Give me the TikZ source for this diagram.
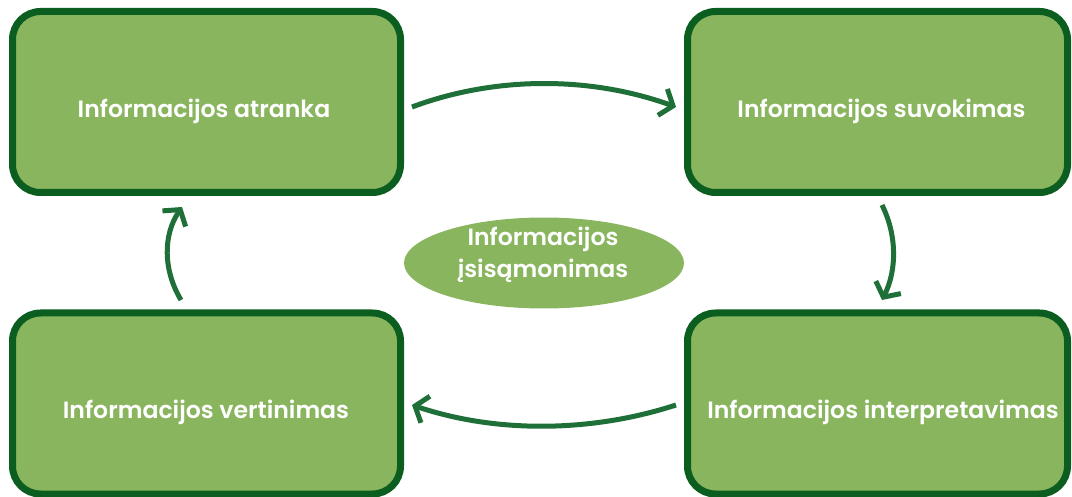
\documentclass[tikz,border=0pt]{standalone}
\usepackage{fontspec}
\setmainfont{Poppins}[BoldFont=* SemiBold]
\usetikzlibrary{arrows.meta,shapes.geometric}
\definecolor{boxfill}{HTML}{89B55E}
\definecolor{boxline}{HTML}{0B5E1F}
\definecolor{arrowc}{HTML}{1E7038}
\tikzset{
  stepbox/.style={draw=boxline, line width=7pt, fill=boxfill, rounded corners=28pt, minimum width=#1, minimum height=181pt, inner sep=0pt},
  boxtext/.style={text=white, font=\fontsize{23.6}{27}\selectfont\bfseries, anchor=base, inner sep=0pt},
  centre/.style={ellipse, fill=boxfill, minimum width=280pt, minimum height=91pt, inner sep=0pt},
  flow/.style={draw=arrowc, line width=5pt, -{Straight Barb[length=11pt,width=28pt,line width=5pt]}}
}
\begin{document}
\begin{tikzpicture}[x=1pt,y=-1pt]
\useasboundingbox (0,0) rectangle (1072,497);
\node[stepbox=388pt] (A) at (206.5,102) {};
\node[stepbox=380pt] (B) at (877.5,102) {};
\node[stepbox=380pt] (C) at (877.5,403.5) {};
\node[stepbox=388pt] (D) at (206.5,403.5) {};
\node[boxtext] (tA) at (204,118) {Informacijos atranka};
\node[boxtext] (tB) at (881.5,118) {Informacijos suvokimas};
\node[boxtext] (tC) at (883,418) {Informacijos interpretavimas};
\node[boxtext] (tD) at (206,418) {Informacijos vertinimas};
\node[centre] (E) at (544,263) {};
\node[boxtext] (tE1) at (543,246) {Informacijos};
\node[boxtext] (tE2) at (543,278) {įsisąmonimas};
\coordinate (a1) at (412,107);
\coordinate (b1) at (676,107);
\coordinate (b2) at (882,205);
\coordinate (c1) at (882,300);
\coordinate (c2) at (676,405);
\coordinate (d1) at (412,405);
\coordinate (d2) at (181,300);
\coordinate (a2) at (182,207);
\draw[flow] (a1) .. controls (495,76) and (590,76) .. (b1);
\draw[flow] (b2) .. controls (897,235) and (897,270) .. (c1);
\draw[flow] (c2) .. controls (590,433) and (495,433) .. (d1);
\draw[flow] (d2) .. controls (163,270) and (163,235) .. (a2);
\end{tikzpicture}
\end{document}
